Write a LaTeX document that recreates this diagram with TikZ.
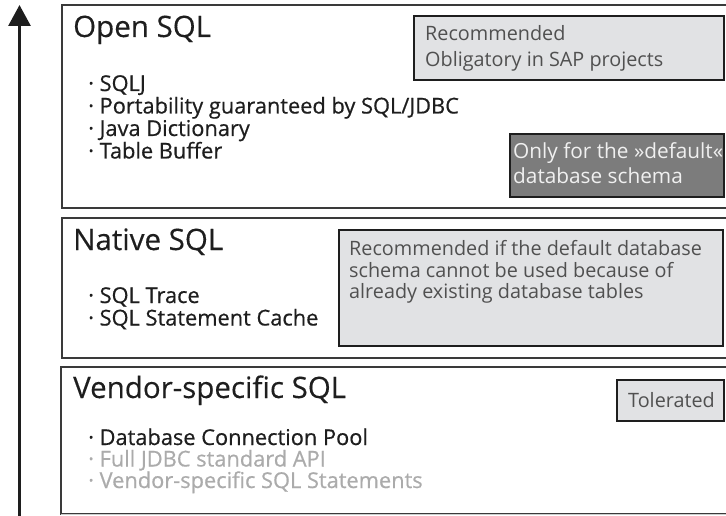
\documentclass[tikz,border=0pt]{standalone}
\usepackage{fontspec}
\setmainfont{Open Sans}
\newfontfamily\itemfont[FakeBold=0.6]{Open Sans}
\newfontfamily\headfont[FakeBold=0.3]{Open Sans}
\usetikzlibrary{arrows.meta}

\definecolor{frame}{HTML}{3A3A3A}
\definecolor{ink}{HTML}{1E1E1E}
\definecolor{notefill}{HTML}{E1E2E4}
\definecolor{noteink}{HTML}{505050}
\definecolor{darkfill}{HTML}{7C7C7C}
\definecolor{fade}{HTML}{ABABAB}

\tikzset{
  layer/.style={draw=frame, line width=2pt, anchor=north west, inner sep=0pt},
  note/.style={draw=ink, line width=2pt, fill=notefill, anchor=north west, inner sep=0pt},
  darknote/.style={note, fill=darkfill},
  title/.style={anchor=base west, inner sep=0pt, text=ink, font=\headfont\fontsize{29.5}{29.5}\selectfont},
  entry/.style={anchor=base west, inner sep=0pt, text=ink, font=\itemfont\fontsize{21.8}{21.8}\selectfont},
  faded/.style={entry, text=fade},
  notetext/.style={anchor=base west, inner sep=0pt, text=noteink, font=\fontsize{19.8}{19.8}\selectfont},
  darktext/.style={notetext, text=white!94!black, font=\fontsize{20.8}{20.8}\selectfont},
}

\begin{document}
\begin{tikzpicture}[x=1pt,y=-1pt]
\useasboundingbox (0,0) rectangle (726,516);
\begin{scope}
\clip (0,0) rectangle (726,516);

% level arrow
\coordinate (abot) at (19.5,520);
\coordinate (atop) at (19.5,5);
\draw[ink, line width=3pt, -{Triangle[width=22pt,length=21pt]}] (abot) -- (atop);

% layers
\node[layer, minimum width=680pt, minimum height=203pt] (open) at (60.5,4) {};
\node[layer, minimum width=680pt, minimum height=140pt] (native) at (60.5,217) {};
\draw[frame, line width=2pt] (740,514) -- (60.5,514) -- (60.5,367) -- (740,367);
\coordinate (vendor) at (60.5,367);
\draw[fade!60, line width=1.5pt] (60.5,514.5) -- (740,514.5);

% Open SQL
\node[title] (t1) at (73,37) {Open SQL};
\node[entry] (o1) at (88,91) {· SQLJ};
\node[entry] (o2) at (88,113.5) {· Portability guaranteed by SQL/JDBC};
\node[entry] (o3) at (88,136) {· Java Dictionary};
\node[entry] (o4) at (88,158.5) {· Table Buffer};

\node[note, minimum width=310pt, minimum height=64pt] (n1) at (413,15) {};
\node[notetext] at (425,41) {Recommended};
\node[notetext] at (425,66.5) {Obligatory in SAP projects};

\node[darknote, minimum width=214pt, minimum height=63pt] (n2) at (509,133) {};
\node[darktext] at (513,159) {Only for the »default«};
\node[darktext] at (513,184) {database schema};

% Native SQL
\node[title] (t2) at (73,250) {Native SQL};
\node[entry] (p1) at (88,303) {· SQL Trace};
\node[entry] (p2) at (88,325.5) {· SQL Statement Cache};

\node[note, minimum width=384pt, minimum height=116pt] (n3) at (338,229) {};
\node[notetext] at (349,255) {Recommended if the default database};
\node[notetext] at (349,277) {schema cannot be used because of};
\node[notetext] at (349,298.5) {already existing database tables};

% Vendor-specific SQL
\node[title] (t3) at (73,398) {Vendor-specific SQL};
\node[entry] (v1) at (88,445) {· Database Connection Pool};
\node[faded] (v2) at (88,466.5) {· Full JDBC standard API};
\node[faded] (v3) at (88,488) {· Vendor-specific SQL Statements};

\node[note, minimum width=107pt, minimum height=41pt] (n4) at (616,379) {};
\node[notetext] at (628,407) {Tolerated};
\end{scope}
\end{tikzpicture}
\end{document}
